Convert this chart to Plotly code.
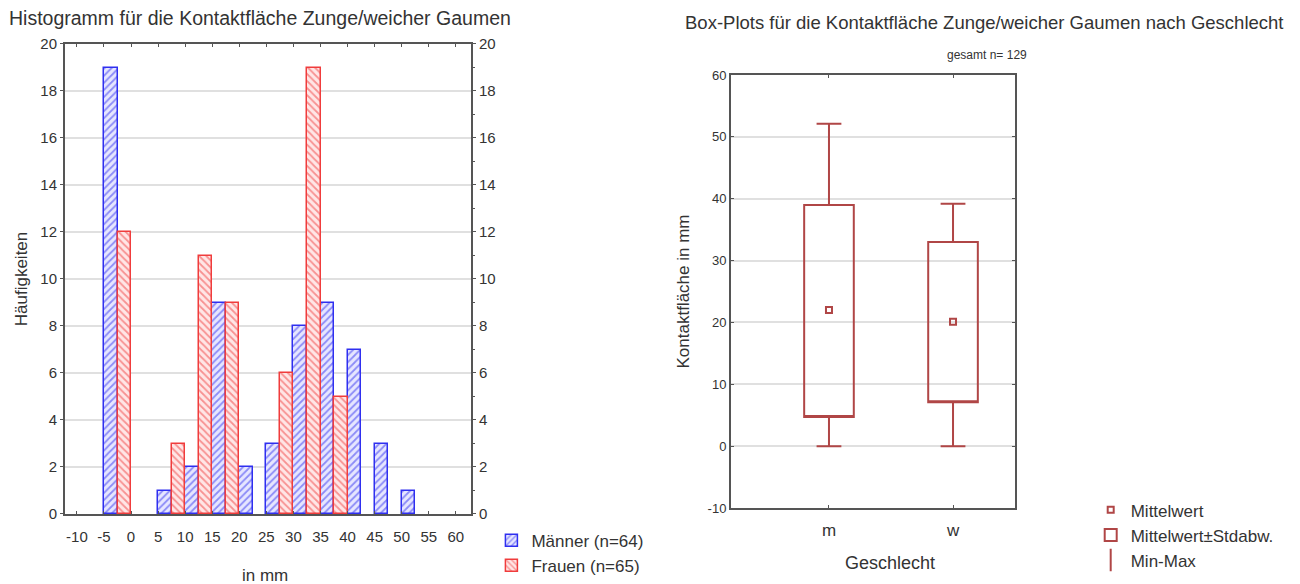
import plotly.graph_objects as go

# ---------------- data ----------------
bin_centers = [-2.5, 2.5, 7.5, 12.5, 17.5, 22.5, 27.5, 32.5, 37.5, 42.5, 47.5, 52.5]
maenner = [19, 0, 1, 2, 9, 2, 3, 8, 9, 7, 3, 1]
frauen = [12, 0, 3, 11, 9, 0, 6, 19, 5, 0, 0, 0]
hist_xticks = [-10, -5, 0, 5, 10, 15, 20, 25, 30, 35, 40, 45, 50, 55, 60]
hist_yticks = [0, 2, 4, 6, 8, 10, 12, 14, 16, 18, 20]

groups = ["m", "w"]
group_pos = [1, 2]
mean_vals = [22.0, 20.1]
sd_low = [4.7, 7.1]
sd_high = [39.0, 33.0]
min_vals = [0, 0]
max_vals = [52.1, 39.2]
box_yticks = [-10, 0, 10, 20, 30, 40, 50, 60]

FONT = "Liberation Sans Narrow, Arial Narrow, Liberation Sans, Arial, sans-serif"
TXT = "#333333"
BLUE = "#2f2ff0"
RED = "#f03c3c"
BOXC = "#b04646"
GRID = "#e0e0e0"
AX = "#555555"


def nz(vals):
    # empty bins are not drawn
    return [v if v else None for v in vals]


fig = go.Figure()

fig.add_trace(go.Bar(
    x=bin_centers, y=nz(maenner), name="Männer (n=64)",
    marker=dict(color="white", line=dict(color=BLUE, width=1.5),
                pattern=dict(shape="/", fgcolor=BLUE, bgcolor="#e6e6ff", size=5, solidity=0.35)),
    xaxis="x", yaxis="y", legend="legend",
))
fig.add_trace(go.Bar(
    x=bin_centers, y=nz(frauen), name="Frauen (n=65)",
    marker=dict(color="white", line=dict(color=RED, width=1.5),
                pattern=dict(shape="\\", fgcolor=RED, bgcolor="#ffe6e6", size=5, solidity=0.35)),
    xaxis="x", yaxis="y", legend="legend",
))
# invisible trace to activate the right-hand axis
fig.add_trace(go.Scatter(x=[None], y=[None], xaxis="x", yaxis="y2", showlegend=False,
                         hoverinfo="skip"))

# box plot (mean ± sd box, min-max whiskers)
fig.add_trace(go.Box(
    x=group_pos, q1=sd_low, median=sd_low, q3=sd_high,
    lowerfence=min_vals, upperfence=max_vals,
    name="Mittelwert±Stdabw.", boxpoints=False, width=0.4, whiskerwidth=0.5,
    line=dict(color=BOXC, width=2), fillcolor="rgba(255,255,255,0)",
    xaxis="x2", yaxis="y3", legend="legend2", legendrank=2,
))
fig.add_trace(go.Scatter(
    x=group_pos, y=mean_vals, mode="markers", name="Mittelwert",
    marker=dict(symbol="square-open", size=6, color=BOXC, line=dict(width=2, color=BOXC)),
    xaxis="x2", yaxis="y3", legend="legend2", legendrank=1,
))
fig.add_trace(go.Scatter(
    x=[None], y=[None], mode="markers", name="Min-Max",
    marker=dict(symbol="line-ns-open", size=16, color=BOXC, line=dict(width=2, color=BOXC)),
    xaxis="x2", yaxis="y3", legend="legend2", legendrank=3,
))

fig.update_layout(
    width=1300, height=584, autosize=False,
    margin=dict(l=0, r=0, t=0, b=0, autoexpand=False),
    paper_bgcolor="white", plot_bgcolor="white",
    font=dict(family=FONT, color=TXT, size=14),
    barmode="group", bargap=0, bargroupgap=0,
    xaxis=dict(
        domain=[0.05, 0.3623], range=[-12.2, 62.8], anchor="y",
        tickmode="array", tickvals=hist_xticks, ticktext=[str(v) for v in hist_xticks],
        ticks="inside", ticklen=3, tickcolor=AX, ticklabelstandoff=8,
        showline=True, linecolor=AX, linewidth=2, mirror="ticks",
        showgrid=False, zeroline=False, tickfont=dict(size=15),
    ),
    yaxis=dict(
        domain=[0.1199, 0.9247], range=[0, 20], anchor="x",
        tickmode="array", tickvals=hist_yticks,
        ticks="outside", ticklen=3, tickcolor=AX,
        showline=True, linecolor=AX, linewidth=2, mirror=True,
        showgrid=True, gridcolor=GRID, gridwidth=1.5, zeroline=False,
        tickfont=dict(size=15),
        title=dict(text="Häufigkeiten", font=dict(size=17), standoff=8),
    ),
    yaxis2=dict(
        overlaying="y", side="right", anchor="x", range=[0, 20],
        tickmode="array", tickvals=hist_yticks,
        ticks="outside", ticklen=4, tickcolor=AX, showgrid=False, zeroline=False,
        showline=False, tickfont=dict(size=15),
        minor=dict(dtick=1, ticks="outside", ticklen=3, tickcolor=AX),
    ),
    xaxis2=dict(
        domain=[0.5623, 0.7808], range=[0.21, 2.5], anchor="y3",
        tickmode="array", tickvals=group_pos, ticktext=groups,
        ticks="inside", ticklen=3, tickcolor=AX, ticklabelstandoff=6,
        showline=True, linecolor=AX, linewidth=2, mirror="ticks",
        showgrid=False, zeroline=False, tickfont=dict(size=17),
    ),
    yaxis3=dict(
        domain=[0.1301, 0.8716], range=[-10, 60], anchor="x2",
        tickmode="array", tickvals=box_yticks, ticktext=[str(v) for v in box_yticks],
        ticks="inside", ticklen=3, tickcolor=AX,
        showline=True, linecolor=AX, linewidth=2, mirror="ticks",
        showgrid=True, gridcolor=GRID, gridwidth=1.5, zeroline=False,
        tickfont=dict(size=13),
        title=dict(text="Kontaktfläche in mm", font=dict(size=17), standoff=14),
    ),
    legend=dict(x=0.378, y=0.105, xanchor="left", yanchor="top",
                font=dict(size=17), bgcolor="rgba(0,0,0,0)", tracegroupgap=0,
                itemwidth=30),
    legend2=dict(x=0.839, y=0.157, xanchor="left", yanchor="top",
                 font=dict(size=17), bgcolor="rgba(0,0,0,0)", tracegroupgap=0,
                 itemwidth=30),
    annotations=[
        dict(text="Histogramm für die Kontaktfläche Zunge/weicher Gaumen",
             x=7 / 1300, y=1 - 18 / 584, xref="paper", yref="paper",
             xanchor="left", yanchor="middle", showarrow=False, font=dict(size=19.5)),
        dict(text="Box-Plots für die Kontaktfläche Zunge/weicher Gaumen nach Geschlecht",
             x=984 / 1300, y=1 - 22 / 584, xref="paper", yref="paper",
             xanchor="center", yanchor="middle", showarrow=False, font=dict(size=18.5)),
        dict(text="gesamt n= 129",
             x=987 / 1300, y=1 - 55 / 584, xref="paper", yref="paper",
             xanchor="center", yanchor="middle", showarrow=False, font=dict(size=12)),
        dict(text="in mm",
             x=265 / 1300, y=1 - 575 / 584, xref="paper", yref="paper",
             xanchor="center", yanchor="middle", showarrow=False, font=dict(size=17)),
        dict(text="Geschlecht",
             x=890 / 1300, y=1 - 563 / 584, xref="paper", yref="paper",
             xanchor="center", yanchor="middle", showarrow=False, font=dict(size=18)),
    ],
)

fig.write_html("out.html")
